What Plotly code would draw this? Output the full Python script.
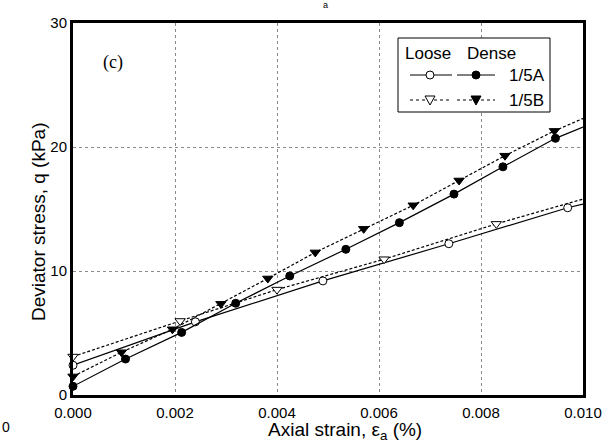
import plotly.graph_objects as go

# ---------------- data ----------------
strain_ticks = [0.000, 0.002, 0.004, 0.006, 0.008, 0.010]
strain_tick_labels = ["0.000", "0.002", "0.004", "0.006", "0.008", "0.010"]
q_ticks = [0, 10, 20, 30]
q_tick_labels = ["0", "10", "20", "30"]

# Loose 1/5A (open circles, solid)
loose_a_strain = [0.0, 0.0024, 0.0049, 0.00737, 0.0097]
loose_a_q = [2.4, 5.9, 9.2, 12.2, 15.1]
loose_a_end = [0.0100, 15.4]

# Dense 1/5A (filled circles, solid)
dense_a_strain = [0.0, 0.00103, 0.00213, 0.00319, 0.00425, 0.00535, 0.0064, 0.00747, 0.00843, 0.00946]
dense_a_q = [0.7, 2.9, 5.05, 7.4, 9.6, 11.75, 13.9, 16.2, 18.4, 20.7]
dense_a_end = [0.0100, 21.6]

# Loose 1/5B (open triangles, dashed)
loose_b_strain = [0.0, 0.0021, 0.0040, 0.0061, 0.0083]
loose_b_q = [3.1, 5.97, 8.5, 10.95, 13.8]
loose_b_end = [0.0100, 15.8]

# Dense 1/5B (filled triangles, dashed)
dense_b_strain = [0.0, 0.00095, 0.00195, 0.0029, 0.00382, 0.00475, 0.0057, 0.00667, 0.00757, 0.00847, 0.00944]
dense_b_q = [1.5, 3.45, 5.3, 7.35, 9.4, 11.5, 13.4, 15.3, 17.3, 19.3, 21.3]
dense_b_end = [0.0100, 22.3]

x_title = "Axial strain, ε<sub>a</sub> (%)"
y_title = "Deviator stress, q (kPa)"

DASH = "3px,2px"
series = [
    ("Loose 1/5A", loose_a_strain, loose_a_q, loose_a_end, "circle", "white", "solid", 8),
    ("Dense 1/5A", dense_a_strain, dense_a_q, dense_a_end, "circle", "black", "solid", 8),
    ("Loose 1/5B", loose_b_strain, loose_b_q, loose_b_end, "triangle-down", "white", DASH, 9),
    ("Dense 1/5B", dense_b_strain, dense_b_q, dense_b_end, "triangle-down", "black", DASH, 9),
]

FONT = "Liberation Sans, Arial, sans-serif"
fig = go.Figure()

for name, xs, ys, end, sym, fill, dash, msize in series:
    fig.add_trace(go.Scatter(
        x=xs + [end[0]], y=ys + [end[1]], mode="lines",
        line=dict(color="black", width=1.2, dash=dash),
        showlegend=False, hoverinfo="skip"))
    fig.add_trace(go.Scatter(
        x=xs, y=ys, mode="markers", name=name,
        marker=dict(symbol=sym, size=msize, color=fill, line=dict(color="black", width=1)),
        showlegend=False, cliponaxis=False))

# ---------------- hand-built legend (shapes in page-pixel overlay axis) ----------------
shapes = []
shapes.append(dict(type="rect", xref="x2", yref="y2", x0=398, x1=550, y0=38, y1=112,
                   line=dict(color="black", width=1), fillcolor="white", layer="above"))

legend_rows = [
    (75, "solid", "circle", "1/5A"),
    (100, "dot", "tri", "1/5B"),
]
for y, dash, kind, lab in legend_rows:
    for x0, x1, xm, fill in [(410, 452, 430, "white"), (457, 495, 476, "black")]:
        shapes.append(dict(type="line", xref="x2", yref="y2", x0=x0, x1=x1, y0=y, y1=y,
                           line=dict(color="black", width=1, dash=dash), layer="above"))
        if kind == "circle":
            shapes.append(dict(type="circle", xref="x2", yref="y2", x0=xm - 4, x1=xm + 4,
                               y0=y - 4, y1=y + 4, fillcolor=fill,
                               line=dict(color="black", width=1), layer="above"))
        else:
            path = f"M {xm-5},{y-4} L {xm+5},{y-4} L {xm},{y+5} Z"
            shapes.append(dict(type="path", xref="x2", yref="y2", path=path, fillcolor=fill,
                               line=dict(color="black", width=1), layer="above"))
    fig.add_annotation(x=507, y=y, xref="x2", yref="y2", text=lab, showarrow=False,
                       xanchor="left", yanchor="middle",
                       font=dict(family=FONT, size=17, color="black"))

fig.add_annotation(x=403, y=53, xref="x2", yref="y2", text="Loose", showarrow=False,
                   xanchor="left", yanchor="middle", font=dict(family=FONT, size=17, color="black"))
fig.add_annotation(x=465, y=53, xref="x2", yref="y2", text="Dense", showarrow=False,
                   xanchor="left", yanchor="middle", font=dict(family=FONT, size=17, color="black"))

# panel label
fig.add_annotation(x=113, y=62, xref="x2", yref="y2", text="(c)", showarrow=False,
                   xanchor="center", yanchor="middle",
                   font=dict(family="Liberation Serif, Times New Roman, serif", size=18, color="black"))


def px_to_paper(px, py):
    return (px - 73) / 510, (395 - py) / 372


# axis titles as annotations (positioned as in the reference)
ax_, ay_ = px_to_paper(345, 431)
fig.add_annotation(x=ax_, y=ay_, xref="paper", yref="paper", text=x_title, showarrow=False,
                   xanchor="center", yanchor="middle", font=dict(family=FONT, size=19, color="black"))
ax_, ay_ = px_to_paper(38, 222)
fig.add_annotation(x=ax_, y=ay_, xref="paper", yref="paper", text=y_title, showarrow=False,
                   textangle=-90, xanchor="center", yanchor="middle",
                   font=dict(family=FONT, size=19, color="black"))

# stray fragments of neighbouring panels visible near the crop edges
ax_, ay_ = px_to_paper(325, 5)
fig.add_annotation(x=ax_, y=ay_, xref="paper", yref="paper", text="a",
                   showarrow=False, xanchor="center", yanchor="middle",
                   font=dict(family=FONT, size=9, color="black"))
ax_, ay_ = px_to_paper(6, 427)
fig.add_annotation(x=ax_, y=ay_, xref="paper", yref="paper", text="0",
                   showarrow=False, xanchor="center", yanchor="middle",
                   font=dict(family=FONT, size=14, color="black"))

fig.update_layout(
    width=608, height=446,
    margin=dict(l=73, r=25, t=23, b=51),
    paper_bgcolor="white", plot_bgcolor="white",
    font=dict(family=FONT, color="black", size=12),
    shapes=shapes,
    xaxis=dict(
        range=[0, 0.010], tickvals=strain_ticks, ticktext=strain_tick_labels,
        showgrid=True, gridcolor="#8a8a8a", griddash="dot", gridwidth=1,
        showline=True, linecolor="black", linewidth=3, mirror=True,
        ticks="outside", ticklen=2, tickcolor="rgba(0,0,0,0)", automargin=False,
        zeroline=False, tickfont=dict(size=15, family=FONT),
    ),
    yaxis=dict(
        range=[0, 30], tickvals=q_ticks, ticktext=q_tick_labels,
        showgrid=True, gridcolor="#8a8a8a", griddash="dot", gridwidth=1,
        showline=True, linecolor="black", linewidth=3, mirror=True,
        ticks="", automargin=False,
        zeroline=False, tickfont=dict(size=15, family=FONT),
    ),
    xaxis2=dict(overlaying="x", range=[73, 583], visible=False, fixedrange=True),
    yaxis2=dict(overlaying="y", range=[395, 23], visible=False, fixedrange=True),
    showlegend=False,
)

fig.write_html("out.html")
